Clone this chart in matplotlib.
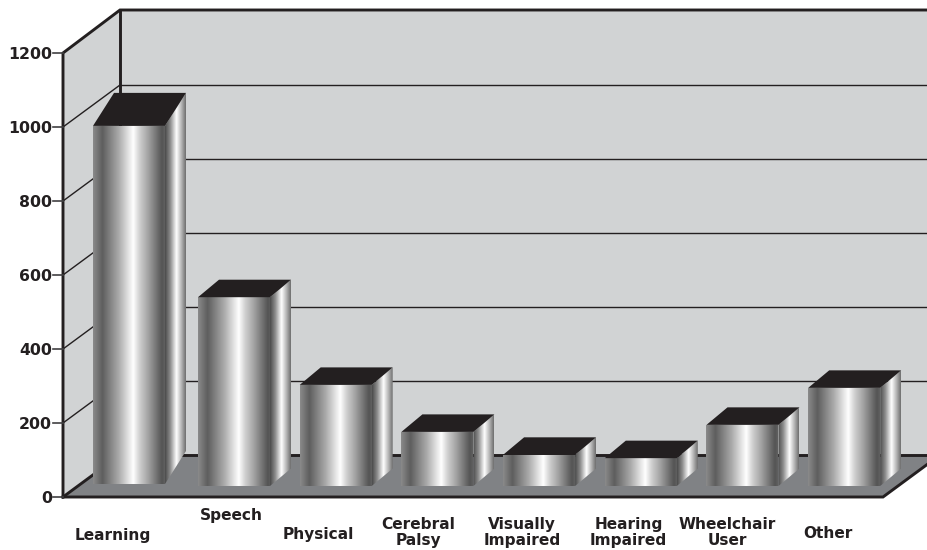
import numpy as np
import matplotlib
matplotlib.use("Agg")
import matplotlib.pyplot as plt
from matplotlib.colors import LinearSegmentedColormap
from matplotlib.patches import Polygon

# values
categories = ["Learning", "Speech", "Physical", "Cerebral\nPalsy", "Visually\nImpaired",
              "Hearing\nImpaired", "Wheelchair\nUser", "Other"]
values = [1003, 540, 303, 176, 114, 105, 195, 295]
ticks = [0, 200, 400, 600, 800, 1000, 1200]

# layout of the category labels
label_x = [-0.19, 0.97, 1.83, 2.81, 3.83, 4.88, 5.85, 6.84]
label_y = [-103, -50, -100, -96, -96, -96, -96, -98]

# pixels per unit, used for the fake 3d depth
PX_X = 101.7
PX_Y = 0.37
ORIGIN = 132.3

WALL = "#d1d3d4"
FLOOR = "#808285"
DARK = "#231f20"

front_cmap = LinearSegmentedColormap.from_list("front", [
    (0.0, "#8a8a8a"), (0.13, "#5e5e5e"), (0.36, "#ababab"), (0.48, "#dedede"),
    (0.56, "#ffffff"), (0.65, "#cfcfcf"), (0.76, "#a6a6a6"), (0.96, "#545454"), (1.0, "#606060")])
side_cmap = LinearSegmentedColormap.from_list("side", [
    (0.0, "#4a4a4a"), (0.25, "#8c8c8c"), (0.55, "#ffffff"), (0.8, "#b0b0b0"), (1.0, "#6e6e6e")])


def grad_patch(ax, pts, cmap, extent):
    poly = Polygon(pts, closed=True, facecolor="none", edgecolor="none", transform=ax.transData)
    ax.add_patch(poly)
    im = ax.imshow(np.linspace(0, 1, 256).reshape(1, -1), cmap=cmap, extent=extent,
                   aspect="auto", interpolation="bilinear", zorder=4)
    im.set_clip_path(poly)


fig = plt.figure(figsize=(9.28, 5.5), dpi=100)
ax = fig.add_axes([0, 0, 1, 1])
xlim = (-ORIGIN / PX_X, (928 - ORIGIN) / PX_X)
ylim = (-53 / PX_Y, 497 / PX_Y)
ax.set_xlim(xlim)
ax.set_ylim(ylim)
ax.set_autoscale_on(False)
ax.axis("off")

x0 = (63 - ORIGIN) / PX_X
x1 = (883 - ORIGIN) / PX_X
xr = xlim[1] + 0.05
dx = 57 / PX_X
dy = 42 / PX_Y
top_dy = 43 / PX_Y
top = ticks[-1]

# walls and floor
ax.add_patch(Polygon([(x0, 0), (x0 + dx, dy), (x0 + dx, top + top_dy), (x0, top)], fc=WALL, ec="none", zorder=1))
ax.add_patch(Polygon([(x0 + dx, dy), (xr, dy), (xr, top + top_dy), (x0 + dx, top + top_dy)],
                     fc=WALL, ec="none", zorder=1))
ax.add_patch(Polygon([(x0, 0), (x1, 0), (x1 + dx, dy), (x0 + dx, dy)], fc=FLOOR, ec="none", zorder=2))

# grid lines, left wall then back wall
for t in ticks[1:-1]:
    ax.plot([x0, x0 + dx], [t, t + dy], color=DARK, lw=1.0, zorder=3)
    ax.plot([x0 + dx, xr], [t + dy, t + dy], color=DARK, lw=1.0, zorder=3)

# frame
ax.plot([x0, x0, x0 + dx, xr], [0, top, top + top_dy, top + top_dy], color=DARK, lw=2.1, zorder=3,
        solid_joinstyle="miter")
ax.plot([x0 + dx, x0 + dx], [dy, top + top_dy], color=DARK, lw=2.1, zorder=3)
ax.plot([x0, x0 + dx], [0, dy], color=DARK, lw=2.1, zorder=3)
ax.plot([x0, x1, x1 + dx], [0, 0, dy], color=DARK, lw=2.1, zorder=3, solid_joinstyle="miter")
ax.plot([x0 + dx, xr], [dy, dy], color=DARK, lw=2.1, zorder=2.5)

# ticks
for t in ticks:
    ax.plot([x0 - 10 / PX_X, x0], [t, t], color="#414042", lw=1.2, zorder=3)
    ax.text(x0 - 11 / PX_X, t, str(t), ha="right", va="center_baseline", fontsize=11.3,
            family="DejaVu Sans", fontweight="bold", color=DARK)

# bars
half = 36 / PX_X
bar_dx = 21 / PX_X
for i, v in enumerate(values):
    # the first bar sits a little apart and has a deeper top than the rest
    shift = (-3.3 if i == 0 else 0) / PX_X
    bar_dy = (33 if i == 0 else 17.5) / PX_Y
    base = (13 if i == 0 else 11) / PX_Y
    left = i - half + shift
    right = i + half + shift
    grad_patch(ax, [(left, base), (right, base), (right, v), (left, v)], front_cmap, (left, right, base, v))
    grad_patch(ax, [(right, base), (right + bar_dx, base + bar_dy), (right + bar_dx, v + bar_dy), (right, v)],
               side_cmap, (right, right + bar_dx, base, v + bar_dy))
    ax.add_patch(Polygon([(left, v), (right, v), (right + bar_dx, v + bar_dy), (left + bar_dx, v + bar_dy)],
                         fc=DARK, ec="none", zorder=5))
    ax.text(label_x[i], label_y[i], categories[i], ha="center", va="center", fontsize=11.1,
            family="DejaVu Sans", fontweight="bold", color=DARK, linespacing=1.05)

fig.savefig("out.png", dpi=100)
